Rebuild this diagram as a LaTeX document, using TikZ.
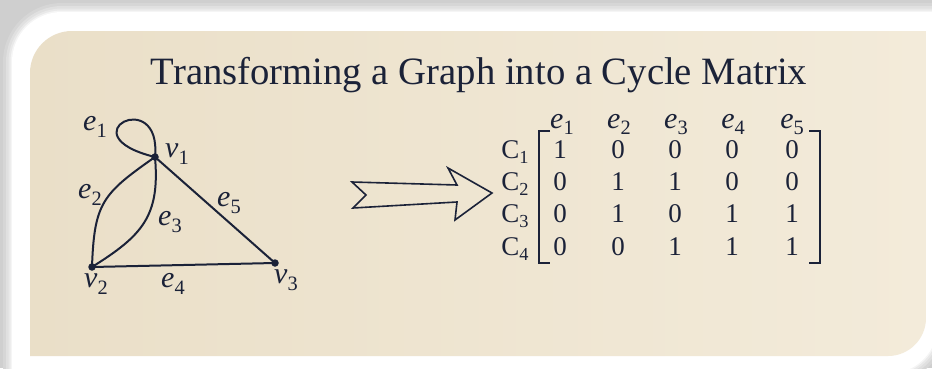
\documentclass[tikz,border=0pt]{standalone}
\usepackage{graphicx}
\usepackage{fontspec}
\setmainfont{Liberation Serif}
\newcommand\lbl[2]{{\itshape #1}\raisebox{-0.22em}{\scalebox{0.68}{#2}}}
\newcommand\rlbl[2]{#1\raisebox{-0.22em}{\scalebox{0.68}{#2}}}
\definecolor{ink}{HTML}{1B2238}
\definecolor{bggray}{HTML}{CFCFCF}
\definecolor{beigeL}{HTML}{EADFC8}
\definecolor{beigeR}{HTML}{F3EBDA}
\tikzset{
  inkline/.style={draw=ink, line width=2pt},
  vdot/.style={circle, fill=ink, inner sep=0pt, minimum size=7.5pt},
  glabel/.style={text=ink, font=\fontsize{30}{34}\selectfont, inner sep=0pt},
  mtx/.style={text=ink, font=\fontsize{27}{31}\selectfont, inner sep=0pt, anchor=base},
  hdr/.style={text=ink, font=\fontsize{30}{34}\selectfont, inner sep=0pt, anchor=base},
  bracket/.style={draw=ink, line width=1.9pt},
}
\begin{document}
\begin{tikzpicture}[x=1pt,y=1pt]
\useasboundingbox (0,0) rectangle (932,368);
\fill[bggray] (0,0) rectangle (932,368);
% soft shadow of the white panel
\foreach \w/\p in {18/15,12/35,7/55,3/80}{
  \draw[line width=\w pt, white!\p!bggray, line join=round]
    (12,-6) -- (12,306) arc[start angle=180,end angle=90,radius=50]
    -- (938,356) -- (938,44) arc[start angle=0,end angle=-90,radius=50] -- cycle;
}
\fill[white]
    (12,-6) -- (12,306) arc[start angle=180,end angle=90,radius=50]
    -- (938,356) -- (938,44) arc[start angle=0,end angle=-90,radius=50] -- cycle;
% beige card
\shade[left color=beigeL, right color=beigeR]
    (30,12) -- (30,295) arc[start angle=180,end angle=90,radius=42]
    -- (926,337) -- (926,50) arc[start angle=0,end angle=-90,radius=38] -- cycle;

% title
\node[text=ink, inner sep=0pt, anchor=base] (title) at (479,284)
  {\resizebox{656pt}{!}{Transforming a Graph into a Cycle Matrix}};

% graph
\coordinate (v1) at (155,211);
\coordinate (v2) at (92,101);
\coordinate (v3) at (275,105);
\draw[inkline] (v1) .. controls (162,283) and (65,233) .. (v1);
\draw[inkline] (v1) to[out=215,in=88,looseness=1.3] (v2);
\draw[inkline] (v1) to[out=-85,in=32,looseness=1.2] (v2);
\draw[inkline] (v1) -- (v3);
\draw[inkline] (v2) -- (v3);
\node[vdot] (d1) at (v1) {};
\node[vdot] (d2) at (v2) {};
\node[vdot] (d3) at (v3) {};

\node[glabel] (lv1) at (177,214) {\lbl{v}{1}};
\node[glabel] (lv2) at (96,84) {\lbl{v}{2}};
\node[glabel] (lv3) at (286,88) {\lbl{v}{3}};
\node[glabel] (le1) at (95,241) {\lbl{e}{1}};
\node[glabel] (le2) at (90,173) {\lbl{e}{2}};
\node[glabel] (le3) at (170,146) {\lbl{e}{3}};
\node[glabel] (le4) at (173,84) {\lbl{e}{4}};
\node[glabel] (le5) at (229,165) {\lbl{e}{5}};

% arrow
\draw[draw=ink, line width=1.6pt, line join=miter]
  (352,186) -- (457,183) -- (448,200) -- (492,175) -- (455,148)
  -- (457,166) -- (353,160) -- (366,173) -- cycle;

% matrix headers
\foreach \j/\x in {1/562,2/619,3/676,4/733,5/792}{
  \node[hdr] (h\j) at (\x,240) {\lbl{e}{\j}};
}
% row labels and entries
\foreach \i/\y/\row in {1/210/{1/560,0/618,0/675,0/732,0/792},
                        2/178/{0/560,1/618,1/675,0/732,0/792},
                        3/146/{0/560,1/618,0/675,1/732,1/792},
                        4/113/{0/560,0/618,1/675,1/732,1/792}}{
  \node[mtx] (c\i) at (515,\y) {\rlbl{C}{\i}};
  \foreach \v/\xx [count=\j] in \row {
    \node[mtx] (m\i\j) at (\xx,\y) {\v};
  }
}
% brackets
\draw[bracket] (550,237) -- (539,237) -- (539,105) -- (550,105);
\draw[bracket] (809,237) -- (820,237) -- (820,105) -- (809,105);
\end{tikzpicture}
\end{document}
